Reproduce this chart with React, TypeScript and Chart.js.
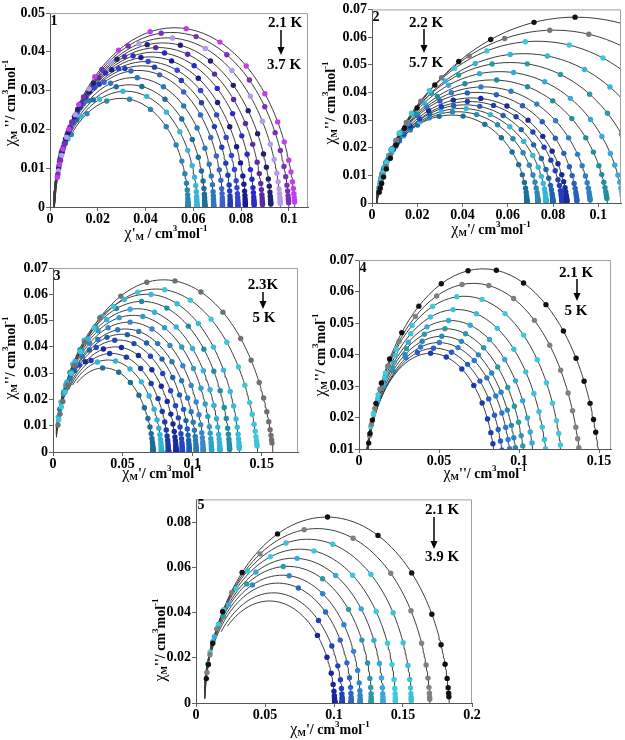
import React, { useEffect, useRef } from "react";
import { Chart, registerables } from "chart.js";

Chart.register(...registerables);

const FONT = "'Liberation Serif', 'Times New Roman', serif";

// ---------- Panel 1 (2.1 K -> 3.7 K) ----------
const p1Freqs = [1, 1.4, 2, 2.8, 4, 5.6, 8, 11, 16, 22, 32, 45, 63, 89, 126, 178, 251, 355, 501, 708, 1000, 1488];
const p1ChiS = [0.0018, 0.0018, 0.0018, 0.0018, 0.0018, 0.0018, 0.0018, 0.0018, 0.0018, 0.0018, 0.0018, 0.0018, 0.0018, 0.0018];
const p1ChiT = [0.1025, 0.1, 0.0965, 0.0925, 0.089, 0.0855, 0.0818, 0.0787, 0.0755, 0.0722, 0.0685, 0.0648, 0.0615, 0.0578];
const p1Peak = [0.0462, 0.045, 0.0436, 0.0423, 0.0411, 0.0399, 0.0387, 0.0375, 0.0364, 0.0353, 0.034, 0.0325, 0.031, 0.0287];
const p1Tau = [1.6e-3, 1.4e-3, 1.2e-3, 1.05e-3, 9.2e-4, 8.0e-4, 7.0e-4, 6.2e-4, 5.5e-4, 4.9e-4, 4.3e-4, 3.8e-4, 3.3e-4, 2.8e-4];
const p1Colors = ["#c43cf0", "#7a2fb8", "#b79be8", "#22226e", "#5a2aa8", "#2a2acc", "#1c1c8c", "#3344d6", "#1f3fb8", "#3a62c8", "#2a7ab8", "#1d6f9a", "#38b6d8", "#2a86b0"];
const p1XTicks = [0, 0.02, 0.04, 0.06, 0.08, 0.1];
const p1YTicks = [0, 0.01, 0.02, 0.03, 0.04, 0.05];

// ---------- Panel 2 (2.2 K -> 5.7 K) ----------
const p2Freqs = [1, 1.4, 2, 2.8, 4, 5.6, 8, 11, 16, 22, 32, 45, 63, 89, 126, 178, 251, 355, 501, 708, 1000, 1488];
const p2ChiS = [0.002, 0.002, 0.002, 0.002, 0.002, 0.002, 0.002, 0.002, 0.002, 0.002, 0.002, 0.002, 0.002, 0.002, 0.002];
const p2ChiT = [0.178, 0.159, 0.144, 0.132, 0.12, 0.111, 0.104, 0.0965, 0.0906, 0.0862, 0.084, 0.08, 0.077, 0.0734, 0.0685];
const p2Peak = [0.0672, 0.0625, 0.0585, 0.054, 0.0508, 0.0475, 0.0445, 0.042, 0.04, 0.038, 0.0367, 0.0355, 0.0342, 0.033, 0.0318];
const p2Tau = [1.0e-2, 7.5e-3, 5.5e-3, 4.0e-3, 3.0e-3, 2.2e-3, 1.7e-3, 1.3e-3, 1.0e-3, 8.0e-4, 6.5e-4, 5.2e-4, 4.2e-4, 3.4e-4, 2.7e-4];
const p2Colors = ["#111111", "#777777", "#3cc8d8", "#33b5d6", "#2a9aa5", "#39a9dc", "#1f8f9f", "#2d7fc4", "#2a5fc0", "#1a2a96", "#2040b8", "#1f64b0", "#36b8d8", "#2a8ab0", "#1d6f9a"];
const p2XTicks = [0, 0.02, 0.04, 0.06, 0.08, 0.1];
const p2YTicks = [0, 0.01, 0.02, 0.03, 0.04, 0.05, 0.06, 0.07];

// ---------- Panel 3 (2.3 K -> 5 K) ----------
const p3Freqs = [1, 1.4, 2, 2.8, 4, 5.6, 8, 11, 16, 22, 32, 45, 63, 89, 126, 178, 251, 355, 501, 708, 1000, 1488];
const p3ChiS = [0.001, 0.001, 0.001, 0.001, 0.001, 0.001, 0.001, 0.001, 0.001, 0.001, 0.001, 0.001, 0.001, 0.001];
const p3ChiT = [0.158, 0.147, 0.134, 0.127, 0.12, 0.114, 0.108, 0.103, 0.098, 0.093, 0.0885, 0.083, 0.078, 0.072];
const p3Peak = [0.0655, 0.062, 0.06, 0.0573, 0.0545, 0.052, 0.0494, 0.0468, 0.0448, 0.0426, 0.04, 0.0375, 0.035, 0.032];
const p3Tau = [2.2e-3, 1.6e-3, 1.2e-3, 9.0e-4, 7.0e-4, 5.5e-4, 4.4e-4, 3.6e-4, 2.9e-4, 2.4e-4, 2.0e-4, 1.65e-4, 1.35e-4, 1.1e-4];
const p3Colors = ["#707070", "#3cc6d6", "#36bcd8", "#1f8f9f", "#35b0dc", "#2ea0c8", "#3a86c8", "#2a7ab8", "#1d5fb0", "#2444c0", "#1a2a98", "#1c3aa8", "#30b4d4", "#1d6f9a"];
const p3XTicks = [0, 0.05, 0.1, 0.15];
const p3YTicks = [0, 0.01, 0.02, 0.03, 0.04, 0.05, 0.06, 0.07];

// ---------- Panel 4 (2.1 K -> 5 K) ----------
const p4Freqs = [10, 13, 17, 23, 30, 40, 53, 70, 93, 123, 163, 216, 286, 378, 500, 662, 876, 1160, 1488];
const p4ChiS = [0.004, 0.004, 0.004, 0.004, 0.004, 0.004, 0.004, 0.004, 0.004, 0.004];
const p4ChiT = [0.151, 0.139, 0.1275, 0.118, 0.11, 0.104, 0.0993, 0.0957, 0.0907, 0.0855];
const p4Peak = [0.0672, 0.0626, 0.0585, 0.0543, 0.0508, 0.0482, 0.0458, 0.0438, 0.042, 0.0404];
const p4Tau = [1.5e-3, 1.1e-3, 8.0e-4, 5.8e-4, 4.3e-4, 3.2e-4, 2.4e-4, 1.8e-4, 1.4e-4, 1.07e-4];
const p4Colors = ["#111111", "#808080", "#3ccbd8", "#3cc0dc", "#36a8dc", "#2a9aa5", "#2a86c0", "#2f7ad0", "#2a5ccc", "#1a3ab0"];
const p4XTicks = [0, 0.05, 0.1, 0.15];
const p4YTicks = [0.01, 0.02, 0.03, 0.04, 0.05, 0.06, 0.07];

// ---------- Panel 5 (2.1 K -> 3.9 K) ----------
const p5Freqs = [1, 1.6, 2.6, 4.3, 7, 11, 18, 30, 48, 79, 129, 210, 340, 560, 910, 1488];
const p5ChiS = [0.006, 0.006, 0.006, 0.006, 0.006, 0.006, 0.006, 0.006, 0.006, 0.006];
const p5ChiT = [0.1835, 0.1695, 0.156, 0.1445, 0.1355, 0.127, 0.119, 0.1125, 0.106, 0.1005];
const p5Peak = [0.0822, 0.0771, 0.0724, 0.068, 0.064, 0.0604, 0.0567, 0.053, 0.0487, 0.0451];
const p5Tau = [2.0e-3, 1.4e-3, 9.5e-4, 6.5e-4, 4.5e-4, 3.0e-4, 1.6e-4, 8.0e-5, 4.7e-5, 3.85e-5];
const p5Colors = ["#111111", "#808080", "#38c4d4", "#3ccbd8", "#36a8dc", "#2a9aa5", "#2f86cc", "#2a64cc", "#1e44b8", "#1a22a0"];
const p5XTicks = [0, 0.05, 0.1, 0.15, 0.2];
const p5YTicks = [0, 0.02, 0.04, 0.06, 0.08];

type Seg = [string, string];

const titleXp1: Seg[] = [["χ", "g"], ["'", "n"], ["M", "sub"], [" / cm", "n"], ["3", "sup"], ["mol", "n"], ["-1", "sup"]];
const titleYp1: Seg[] = [["χ", "g"], ["M", "sub"], [" ''", "n"], ["/ cm", "n"], ["3", "sup"], ["mol", "n"], ["-1", "sup"]];
const titleXM1: Seg[] = [["χ", "g"], ["M", "sub"], ["'", "n"], ["/ cm", "n"], ["3", "sup"], ["mol", "n"], ["-1", "sup"]];
const titleXM2: Seg[] = [["χ", "g"], ["M", "sub"], ["''", "n"], ["/ cm", "n"], ["3", "sup"], ["mol", "n"], ["-1", "sup"]];
const titleYM: Seg[] = [["χ", "g"], ["M", "sub"], ["''", "n"], ["/ cm", "n"], ["3", "sup"], ["mol", "n"], ["-1", "sup"]];

function coleCole(chiS: number, chiT: number, peak: number, tau: number, f: number) {
  const d = chiT - chiS;
  const alpha = Math.max(0, 1 - (4 / Math.PI) * Math.atan((2 * peak) / d));
  const wt = 2 * Math.PI * f * tau;
  const u = Math.pow(wt, 1 - alpha);
  const phi = ((1 - alpha) * Math.PI) / 2;
  const re = 1 + u * Math.cos(phi);
  const im = u * Math.sin(phi);
  const m = re * re + im * im;
  return { x: chiS + (d * re) / m, y: (d * im) / m };
}

const panels = [
  {
    box: { left: 0, top: 0, w: 318, h: 245 }, yWidth: 50, xHeight: 38, padTop: 13, padRight: 10,
    xMin: 0, xMax: 0.108, yMin: 0, yMax: 0.05, xTicks: p1XTicks, yTicks: p1YTicks,
    freqs: p1Freqs, chiS: p1ChiS, chiT: p1ChiT, peak: p1Peak, tau: p1Tau, colors: p1Colors, lineRange: [0.01, 1e6],
    label: "1", labelPos: [54, 21], tHigh: "2.1 K", tLow: "3.7 K", t1: [285, 23], arrow: [281, 30, 55], t2: [284, 65],
    xTitle: titleXp1, xTitlePos: [166, 234], yTitle: titleYp1, yTitlePos: [11, 103],
  },
  {
    box: { left: 316, top: 0, w: 309, h: 245 }, yWidth: 56, xHeight: 42, padTop: 9, padRight: 4,
    xMin: 0, xMax: 0.11, yMin: 0, yMax: 0.07, xTicks: p2XTicks, yTicks: p2YTicks,
    freqs: p2Freqs, chiS: p2ChiS, chiT: p2ChiT, peak: p2Peak, tau: p2Tau, colors: p2Colors, lineRange: [0.01, 1e6],
    label: "2", labelPos: [376, 17], tHigh: "2.2 K", tLow: "5.7 K", t1: [426, 23], arrow: [424, 29, 53], t2: [426, 63],
    xTitle: titleXM1, xTitlePos: [491, 230], yTitle: titleYM, yTitlePos: [331, 103],
  },
  {
    box: { left: 0, top: 250, w: 310, h: 240 }, yWidth: 53, xHeight: 38, padTop: 18, padRight: 12,
    xMin: 0, xMax: 0.176, yMin: 0, yMax: 0.07, xTicks: p3XTicks, yTicks: p3YTicks,
    freqs: p3Freqs, chiS: p3ChiS, chiT: p3ChiT, peak: p3Peak, tau: p3Tau, colors: p3Colors, lineRange: [0.01, 3000],
    label: "3", labelPos: [57, 276], tHigh: "2.3K", tLow: "5 K", t1: [263, 285], arrow: [263, 292, 309], t2: [264, 318],
    xTitle: titleXM1, xTitlePos: [162, 474], yTitle: titleYM, yTitlePos: [11, 358],
  },
  {
    box: { left: 308, top: 250, w: 317, h: 240 }, yWidth: 51, xHeight: 41, padTop: 10, padRight: 14,
    xMin: 0, xMax: 0.1575, yMin: 0.01, yMax: 0.07, xTicks: p4XTicks, yTicks: p4YTicks,
    freqs: p4Freqs, chiS: p4ChiS, chiT: p4ChiT, peak: p4Peak, tau: p4Tau, colors: p4Colors, lineRange: [0.01, 1e6],
    label: "4", labelPos: [363, 268], tHigh: "2.1 K", tLow: "5 K", t1: [576, 273], arrow: [577, 279, 301], t2: [576, 311],
    xTitle: titleXM2, xTitlePos: [485, 474], yTitle: titleYM, yTitlePos: [321, 355],
  },
  {
    box: { left: 150, top: 490, w: 340, h: 250 }, yWidth: 46, xHeight: 37, padTop: 7, padRight: 18,
    xMin: 0, xMax: 0.2, yMin: 0, yMax: 0.09, xTicks: p5XTicks, yTicks: p5YTicks,
    freqs: p5Freqs, chiS: p5ChiS, chiT: p5ChiT, peak: p5Peak, tau: p5Tau, colors: p5Colors, lineRange: [0.01, 9500],
    label: "5", labelPos: [201, 505], tHigh: "2.1 K", tLow: "3.9 K", t1: [442, 510], arrow: [434, 517, 549], t2: [442, 557],
    xTitle: titleXM1, xTitlePos: [330, 730], yTitle: titleYM, yTitlePos: [161, 640],
  },
];

function drawRich(ctx: CanvasRenderingContext2D, segs: Seg[], cx: number, cy: number, rotate: boolean) {
  ctx.save();
  ctx.translate(cx, cy);
  if (rotate) ctx.rotate(-Math.PI / 2);
  const fontFor = (k: string) =>
    k === "sub" || k === "sup" ? `bold 9px ${FONT}` : k === "g" ? `16px ${FONT}` : `bold 14px ${FONT}`;
  let total = 0;
  const widths = segs.map(([t, k]) => {
    ctx.font = fontFor(k);
    const w = ctx.measureText(t).width;
    total += w;
    return w;
  });
  let x = -total / 2;
  ctx.textBaseline = "middle";
  ctx.textAlign = "left";
  ctx.fillStyle = "#000";
  segs.forEach(([t, k], i) => {
    ctx.font = fontFor(k);
    const dy = k === "sub" ? 4 : k === "sup" ? -5 : 0;
    ctx.fillText(t, x, dy);
    x += widths[i];
  });
  ctx.restore();
}

function PanelChart({ p }: { p: any }) {
  const ref = useRef<HTMLCanvasElement | null>(null);
  useEffect(() => {
    if (!ref.current) return;
    const datasets: any[] = [];
    p.chiT.forEach((_: number, i: number) => {
      datasets.push({
        data: p.freqs.map((f: number) => coleCole(p.chiS[i], p.chiT[i], p.peak[i], p.tau[i], f)),
        showLine: false,
        pointRadius: 2.7,
        pointBackgroundColor: p.colors[i],
        pointBorderWidth: 0,
        order: 0,
      });
    });
    p.chiT.forEach((_: number, i: number) => {
      const [f0, f1] = p.lineRange;
      const line: { x: number; y: number }[] = [];
      const N = 260;
      for (let k = 0; k <= N; k++) {
        const f = f0 * Math.pow(f1 / f0, k / N);
        line.push(coleCole(p.chiS[i], p.chiT[i], p.peak[i], p.tau[i], f));
      }
      datasets.push({
        data: line,
        showLine: true,
        pointRadius: 0,
        borderColor: "#3e3e3e",
        borderWidth: 1,
        fill: false,
        tension: 0,
        order: 1,
      });
    });
    const ox = p.box.left;
    const oy = p.box.top;
    const decor = {
      id: "decor" + p.label,
      afterDraw(chart: any) {
        const ctx: CanvasRenderingContext2D = chart.ctx;
        const a = chart.chartArea;
        ctx.save();
        ctx.strokeStyle = "#a0a0a0";
        ctx.lineWidth = 1;
        ctx.beginPath();
        ctx.moveTo(a.left, a.top + 0.5);
        ctx.lineTo(a.right - 0.5, a.top + 0.5);
        ctx.lineTo(a.right - 0.5, a.bottom);
        ctx.stroke();
        ctx.fillStyle = "#000";
        ctx.font = `bold 14px ${FONT}`;
        ctx.textBaseline = "middle";
        ctx.textAlign = "center";
        ctx.fillText(p.label, p.labelPos[0] - ox, p.labelPos[1] - oy);
        ctx.font = `bold 15px ${FONT}`;
        ctx.fillText(p.tHigh, p.t1[0] - ox, p.t1[1] - oy);
        ctx.fillText(p.tLow, p.t2[0] - ox, p.t2[1] - oy);
        const ax = p.arrow[0] - ox;
        const ay1 = p.arrow[1] - oy;
        const ay2 = p.arrow[2] - oy;
        ctx.strokeStyle = "#000";
        ctx.lineWidth = 1.5;
        ctx.beginPath();
        ctx.moveTo(ax, ay1);
        ctx.lineTo(ax, ay2 - 6);
        ctx.stroke();
        ctx.beginPath();
        ctx.moveTo(ax - 3.5, ay2 - 8);
        ctx.lineTo(ax + 3.5, ay2 - 8);
        ctx.lineTo(ax, ay2);
        ctx.closePath();
        ctx.fill();
        ctx.restore();
        drawRich(ctx, p.xTitle, p.xTitlePos[0] - ox, p.xTitlePos[1] - oy, false);
        drawRich(ctx, p.yTitle, p.yTitlePos[0] - ox, p.yTitlePos[1] - oy, true);
      },
    };
    const tickFont = { family: FONT, weight: "bold" as const, size: 14 };
    const chart = new Chart(ref.current, {
      type: "scatter",
      data: { datasets },
      options: {
        animation: false,
        responsive: false,
        events: [],
        layout: { padding: { left: 0, top: p.padTop, right: p.padRight, bottom: 0 } },
        plugins: { legend: { display: false }, tooltip: { enabled: false }, title: { display: false } },
        scales: {
          x: {
            type: "linear",
            min: p.xMin,
            max: p.xMax,
            afterBuildTicks: (s: any) => {
              s.ticks = p.xTicks.map((v: number) => ({ value: v }));
            },
            afterFit: (s: any) => {
              s.height = p.xHeight;
            },
            ticks: { color: "#000", font: tickFont, padding: 0, maxRotation: 0, autoSkip: false, callback: (v: any) => String(v) },
            grid: { display: true, drawOnChartArea: false, drawTicks: true, tickLength: 4, color: "#666" },
            border: { display: true, color: "#555", width: 1 },
          },
          y: {
            type: "linear",
            min: p.yMin,
            max: p.yMax,
            afterBuildTicks: (s: any) => {
              s.ticks = p.yTicks.map((v: number) => ({ value: v }));
            },
            afterFit: (s: any) => {
              s.width = p.yWidth;
            },
            ticks: { color: "#000", font: tickFont, padding: 1, autoSkip: false, callback: (v: any) => String(v) },
            grid: { display: true, drawOnChartArea: false, drawTicks: true, tickLength: 4, color: "#666" },
            border: { display: true, color: "#555", width: 1 },
          },
        },
      },
      plugins: [decor],
    } as any);
    return () => chart.destroy();
  }, [p]);
  return (
    <div style={{ position: "absolute", left: p.box.left, top: p.box.top, width: p.box.w, height: p.box.h }}>
      <canvas ref={ref} width={p.box.w} height={p.box.h} style={{ width: p.box.w, height: p.box.h, display: "block" }} />
    </div>
  );
}

export default function App() {
  return (
    <div style={{ position: "absolute", left: 0, top: 0, width: 625, height: 740, background: "#fff", overflow: "hidden" }}>
      {panels.map((p, i) => (
        <PanelChart key={i} p={p} />
      ))}
    </div>
  );
}
